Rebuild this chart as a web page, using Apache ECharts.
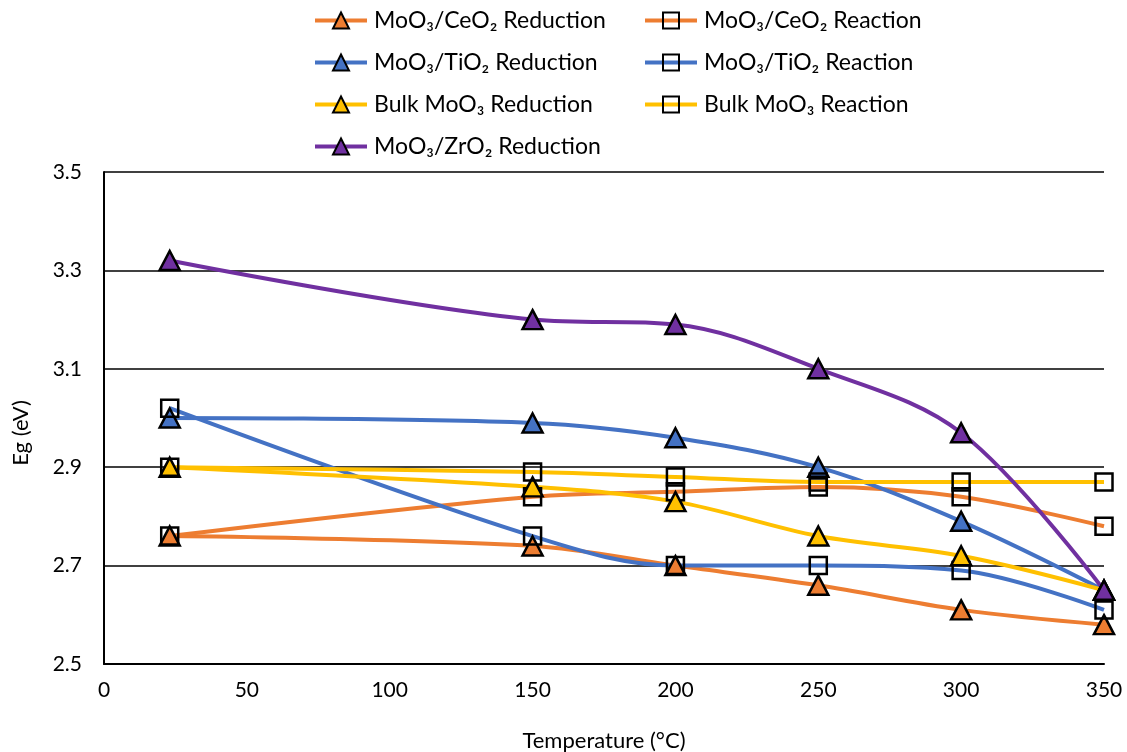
<!DOCTYPE html>
<html>
<head>
<meta charset="utf-8">
<title>Band gap vs temperature</title>
<script src="https://cdn.jsdelivr.net/npm/echarts@6/dist/echarts.min.js"></script>
<style>
  html, body { margin: 0; padding: 0; background: #fff; }
  #chart { width: 1127px; height: 752px; }
</style>
</head>
<body>
<div id="chart"></div>
<script>
// Temperatures (°C) at which Eg was measured
const temperatures = [23, 150, 200, 250, 300, 350];

// Band gap Eg (eV) for each sample and treatment
const ceo2Reduction  = [2.76, 2.74, 2.70, 2.66, 2.61, 2.58];
const ceo2Reaction   = [2.76, 2.84, 2.85, 2.86, 2.84, 2.78];
const tio2Reduction  = [3.00, 2.99, 2.96, 2.90, 2.79, 2.65];
const tio2Reaction   = [3.02, 2.76, 2.70, 2.70, 2.69, 2.61];
const bulkReduction  = [2.90, 2.86, 2.83, 2.76, 2.72, 2.65];
const bulkReaction   = [2.90, 2.89, 2.88, 2.87, 2.87, 2.87];
const zro2Reduction  = [3.32, 3.20, 3.19, 3.10, 2.97, 2.65];

const names = {
  ceo2Red: 'MoO₃/CeO₂ Reduction',
  ceo2Rea: 'MoO₃/CeO₂ Reaction',
  tio2Red: 'MoO₃/TiO₂ Reduction',
  tio2Rea: 'MoO₃/TiO₂ Reaction',
  bulkRed: 'Bulk MoO₃ Reduction',
  bulkRea: 'Bulk MoO₃ Reaction',
  zro2Red: 'MoO₃/ZrO₂ Reduction'
};

const ORANGE = '#ED7D31', BLUE = '#4472C4', YELLOW = '#FFC000', PURPLE = '#7030A0';
const FONT = "Lato, 'Noto Sans', 'DejaVu Sans', sans-serif";

function pair(values) {
  return temperatures.map((t, i) => [t, values[i]]);
}

function series(name, values, color, kind) {
  const isTri = kind === 'tri';
  return {
    name: name,
    type: 'line',
    data: pair(values),
    smooth: 0.35,
    symbol: isTri ? 'triangle' : 'rect',
    symbolSize: isTri ? [20, 19] : [17, 17],
    lineStyle: { color: color, width: 4 },
    itemStyle: {
      color: isTri ? color : 'rgba(255,255,255,0)',
      borderColor: '#000',
      borderWidth: 2.5
    },
    emphasis: { disabled: true },
    z: 2
  };
}

const legendBase = {
  orient: 'vertical',
  top: 9,
  padding: 0,
  itemWidth: 52,
  itemHeight: 20,
  itemGap: 19,
  lineStyle: { width: 4 },
  textStyle: { fontFamily: FONT, fontSize: 23, color: '#000', padding: [0, 0, 0, 2] },
  selectedMode: false
};

const chart = echarts.init(document.getElementById('chart'), null, { renderer: 'canvas' });

chart.setOption({
  animation: false,
  backgroundColor: '#fff',
  legend: [
    Object.assign({}, legendBase, {
      left: 313,
      data: [names.ceo2Red, names.tio2Red, names.bulkRed, names.zro2Red]
    }),
    Object.assign({}, legendBase, {
      left: 643,
      data: [names.ceo2Rea, names.tio2Rea, names.bulkRea]
    })
  ],
  grid: { left: 104, right: 23, top: 172, bottom: 88, containLabel: false, outerBoundsMode: 'none' },
  xAxis: {
    type: 'value',
    min: 0, max: 350, interval: 50,
    name: 'Temperature (°C)',
    nameLocation: 'middle',
    nameGap: 66,
    nameTextStyle: { fontFamily: FONT, fontSize: 22, color: '#000' },
    axisLine: { show: true, lineStyle: { color: '#000', width: 2 } },
    axisTick: { show: false },
    axisLabel: { fontFamily: FONT, fontSize: 21, color: '#000', margin: 16 },
    splitLine: { show: false }
  },
  yAxis: {
    type: 'value',
    min: 2.5, max: 3.5, interval: 0.2,
    name: 'Eg (eV)',
    nameLocation: 'middle',
    nameGap: 72,
    nameTextStyle: { fontFamily: FONT, fontSize: 22, color: '#000', padding: [0, 0, 0, -30] },
    axisLine: { show: true, lineStyle: { color: '#000', width: 2 } },
    axisTick: { show: false },
    axisLabel: {
      fontFamily: FONT, fontSize: 21, color: '#000', margin: 22,
      formatter: v => v.toFixed(1)
    },
    splitLine: { show: true, lineStyle: { color: '#000', width: 1.5 } }
  },
  series: [
    series(names.ceo2Red, ceo2Reduction, ORANGE, 'tri'),
    series(names.ceo2Rea, ceo2Reaction, ORANGE, 'sq'),
    series(names.tio2Red, tio2Reduction, BLUE, 'tri'),
    series(names.tio2Rea, tio2Reaction, BLUE, 'sq'),
    series(names.bulkRed, bulkReduction, YELLOW, 'tri'),
    series(names.bulkRea, bulkReaction, YELLOW, 'sq'),
    series(names.zro2Red, zro2Reduction, PURPLE, 'tri')
  ]
});
</script>
</body>
</html>
